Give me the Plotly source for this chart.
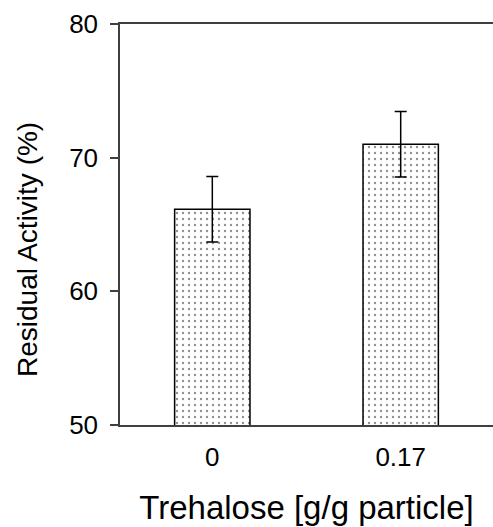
import plotly.graph_objects as go

categories = ["0", "0.17"]
activity = [66.15, 71.0]
errors = [2.45, 2.45]
y_ticks = [50, 60, 70, 80]

axis_color = "#404040"
font_family = "Liberation Sans, Arial, sans-serif"

fig = go.Figure()
fig.add_trace(go.Bar(
    x=categories,
    y=activity,
    width=0.4,
    marker=dict(
        color="white",
        line=dict(color="black", width=1.5),
        pattern=dict(shape=".", fgcolor="#222222", bgcolor="white", size=6, solidity=0.12),
    ),
    error_y=dict(type="data", array=errors, visible=True, color="black", thickness=1.5, width=6),
))

fig.update_layout(
    width=493, height=527,
    margin=dict(l=120, r=0, t=24, b=102),
    paper_bgcolor="white", plot_bgcolor="white",
    showlegend=False,
    font=dict(family=font_family, color="black"),
    xaxis=dict(
        type="category",
        range=[-0.49, 1.49],
        showline=True, linecolor=axis_color, linewidth=1.5, mirror=True,
        showgrid=False, zeroline=False, ticks="",
        tickfont=dict(size=26, family=font_family, color="black"),
        ticklabelstandoff=8,
        title=dict(text="Trehalose [g/g particle]", font=dict(size=33, family=font_family, color="black"), standoff=25),
    ),
    yaxis=dict(
        range=[50, 80],
        tickvals=y_ticks,
        showline=True, linecolor=axis_color, linewidth=1.5,
        showgrid=False, zeroline=False,
        ticks="outside", ticklen=8, tickwidth=1.5, tickcolor=axis_color,
        tickfont=dict(size=26, family=font_family, color="black"),
        ticklabelstandoff=7,
    ),
    annotations=[dict(
        text="Residual Activity (%)",
        xref="paper", yref="paper",
        x=(27 - 120) / 373, y=(425 - 250) / 401,
        xanchor="center", yanchor="middle",
        textangle=-90, showarrow=False,
        font=dict(size=28, family=font_family, color="black"),
    )],
)

fig.write_html("out.html")
